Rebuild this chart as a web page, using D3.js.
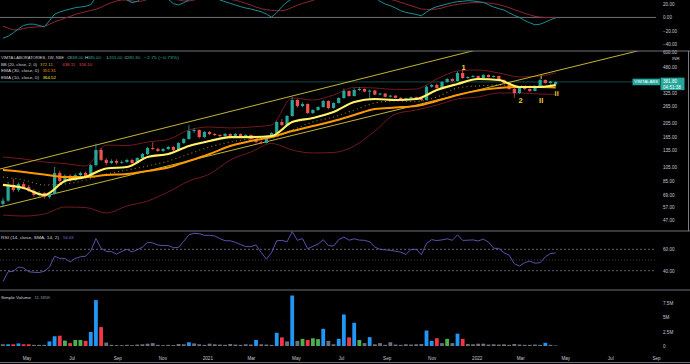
<!DOCTYPE html>
<html>
<head>
<meta charset="utf-8">
<script src="https://cdn.jsdelivr.net/npm/d3@7"></script>
<style>
  html, body { margin: 0; padding: 0; background: #000; }
  svg { display: block; font-family: "Liberation Sans", Arial, sans-serif; }
</style>
</head>
<body>
<div id="chart"></div>
<script>
// weekly candles, Mon 30 Mar 2020 .. Mon 18 Apr 2022
const weeks = d3.timeMonday.range(new Date(2020, 2, 30), new Date(2022, 3, 19));

const opens = [60,63,80,74,81,77.5,73,68.7,70.8,66.6,70,96,85,92,86,93,96,90,108,136,
  117,111.6,115,112,113.3,116.8,111.6,120.4,127.9,140.1,138,134,138,142.3,136,151.2,160.6,181.3,184.1,165.5,
  178.6,173.3,170.7,168.1,173.3,168.1,173.3,168.1,170.7,160.6,153.5,151.2,165.5,175.9,207.9,198.6,227.7,290.3,265,273.2,
  238.3,249.4,261,285.9,257.1,277.3,299.2,332.7,308.4,337.8,343,330,335,315,320,305,310,300,292,298,
  303,297,290,355,364.5,348.2,381.4,399.2,387.3,437.2,405.3,411.5,417.8,405.3,424.2,411.5,417.8,393.2,375.7,343,
  322.8,348.2,343,332.7,359,393.2,375.7,368];
const highs = [66,84,88,83,84,80,75,73,72,72,105,99,94,94,95,98,98,110,150,140,
  120,118,118,116,119,119,122,130,143,153,141,140,145,144,153,163,199,190,186,181,
  181,176,173,176,175,176,175,173,172,166,157,167,178,212,218,231,303,295,280,276,
  252,264,290,289,280,302,345,336,348,352,346,340,338,324,323,314,312,303,300,306,
  306,300,362,370,372,386,405,404,448,465,416,424,421,430,428,422,420,397,378,348,
  352,355,347,362,400,396,388,385];
const lows = [57,62,72,72,75,72,67,67,65,65,69,83,82,84,85,91,88,89,106,115,
  108,110,109,110,112,110,111,119,126,136,132,132,136,134,135,149,159,176,162,163,
  170,168,165,166,165,166,164,165,158,150,148,150,163,174,195,196,225,258,260,235,
  234,246,258,252,254,275,296,305,306,333,326,290,312,312,302,302,297,289,290,296,
  294,285,288,350,344,346,378,383,385,400,400,408,400,403,408,408,390,370,338,300,
  318,338,328,330,356,372,372,355];
const closes = [63,80,74,81,77.5,73,68.7,70.8,66.6,70,96,85,92,86,93,96,90,108,136,117,
  111.6,115,112,113.3,116.8,111.6,120.4,127.9,140.1,138,134,138,142.3,136,151.2,160.6,181.3,184.1,165.5,178.6,
  173.3,170.7,168.1,173.3,168.1,173.3,168.1,170.7,160.6,153.5,151.2,165.5,175.9,207.9,198.6,227.7,290.3,265,273.2,238.3,
  249.4,261,285.9,257.1,277.3,299.2,332.7,308.4,337.8,343,330,335,315,320,305,310,300,292,298,303,
  297,290,355,364.5,348.2,381.4,399.2,387.3,437.2,405.3,411.5,417.8,405.3,424.2,411.5,417.8,393.2,375.7,343,322.8,
  348.2,343,332.7,359,393.2,375.7,384.55,381.8];

// volume (millions) and bar kind: B blue, R red, G green, N neutral
const volumes = [0.3,0.3,0.3,0.45,0.3,0.3,0.2,0.2,0.2,0.8,1.7,1.8,0.95,0.5,1.05,1.05,0.9,2.45,8.0,3.3,
  0.6,0.2,0.15,0.15,0.2,0.15,0.25,0.3,0.4,0.5,0.2,0.15,0.2,0.15,0.35,0.3,0.65,0.45,0.3,0.2,
  0.4,0.3,0.25,0.2,0.35,0.25,0.2,0.3,0.25,1.05,0.3,0.25,0.2,2.3,1.5,0.8,8.8,0.9,1.25,1.05,
  1.35,1.2,3.0,0.9,0.3,1.25,5.5,1.5,4.05,1.05,0.5,1.55,0.3,0.5,0.2,0.65,0.25,0.2,0.3,0.25,
  0.3,0.35,2.7,0.9,1.35,0.5,1.25,0.5,2.15,1.25,0.35,0.3,0.4,0.4,0.25,0.3,0.25,0.3,0.2,0.35,
  0.25,0.2,0.2,0.25,0.2,0.55,0.2,0.1];
const volKinds = "NBRBRRNNNBBRGRGGRBBRNNNNNNNNNNNNNNNNBNNNNNNNNNNNNBNNNBRNBNGRGGBNNBBRBGNBNNNNNNNNNNBBRNGNBRNNNNNNNNNNNNNNNBNN".split("");

// RSI (14)
const rsi = [30,39,39.5,43.4,42.5,39,38.5,38.3,39.5,43.4,53.5,51.5,51.5,48.2,51.5,53,53.5,58.5,70,61,
  58,57.8,55.5,58,60,57.5,59.5,62,66.5,66,64,63.5,63.5,61.5,61.8,67.5,73.5,75,74.5,73.1,
  73.1,72.5,70,68,68,66.5,64.5,62.5,62.5,64,57,50.8,57,68,68.3,67,76.5,68.4,70,60.5,
  62.8,64.8,69,63.5,63,69,71.5,68.5,69.8,68.6,68.4,67,62,60,59.5,59,58.2,57.3,55.3,59.8,
  60,55,65.5,69,68.2,68.8,69.8,68.4,73.6,68.3,68.5,68.8,67.8,69.5,66.8,61,60.8,56.8,54.5,46.5,
  44.3,47.5,49,47,47.5,53,56.1,56.6];

// top oscillator pane: fast (teal) and signal (red)
const oscFast = [-31,-28,-23,-17,-12,-10,-10,-12,-14,-5,5,8,10.5,12.5,14.5,15.5,16.5,19,30,38,
  42,42,38,32,26,22,24,30,34,36,34,30,27,20.5,18.5,22,26,32,36,38,
  36,32,26,23.5,21,18.5,16,14,12.5,10.5,8.5,5,0.5,7,16,23,28,36,42,44,
  44,42,44,45,44,45,48,48,46,44,40,36,30,24,20,17.5,14,10,7.5,6,
  4.5,2.5,8,13,16,18,20,22,23.5,24,25,24.5,23.5,22.5,19,15.5,13,11,7,3,
  0,-4.5,-8,-11,-10,-7,-3.5,-0.5];
const oscSignal = [-13,-16,-18.5,-18.5,-16.5,-15,-14.5,-14,-13.5,-10,-6.5,-4,-1,1.5,4.5,6.5,8.5,10.5,12,15,
  19,22,24.5,26,26,24.5,23.5,24.5,27,29,30,30,29,27.5,26,24.5,24.5,26,28,30,
  31,31,30,28.5,27,25.5,23.5,21,18.5,15.5,13,11.5,10.5,10,10,11.5,15,18,21,23,
  25.5,28,30,32,34,35,36,37,38,38,37,35,33,31,29,27,25,22.5,20,17.5,
  15,12.5,12,12,12.5,14,16.5,18,19.5,20.5,21.5,22,22,22,21.5,20.5,19,17,14.5,11.5,
  9,6,4,1.5,0.5,0,0,0];

// overlay lines, read every 4th week
const lineIdx = [0,4,8,12,16,20,24,28,32,36,40,44,48,52,56,60,64,68,72,76,80,84,88,92,96,100,104,107];
const ema10 = [80.0,76.4,68.7,84.9,90.2,102.7,105.0,122.2,127.9,144.4,155.8,165.5,165.5,168.1,207.9,220.9,241.9,281.6,294.7,290.3,294.7,337.8,370.0,399.2,393.2,353.6,353.6,364.52];
const ema30 = [100.3,97.3,93.7,90.2,90.2,93.0,94.4,98.8,104.2,115.0,127.9,144.4,155.8,165.5,181.3,195.6,211.1,231.1,253.2,259.0,265.0,285.9,313.2,335.3,348.2,353.6,353.6,351.31];
const bbBasis = [90.2,86.2,80.0,81.1,86.2,94.4,100.3,106.6,115.0,127.9,142.3,153.5,160.6,163.1,184.1,207.9,224.3,249.4,277.3,285.9,283.7,303.8,348.2,359.0,364.5,359.0,359.0,372.11];
const bbUpper = [122.2,118.6,113.3,110.7,106.6,146.6,145.5,153.5,159.4,184.1,192.7,189.8,192.7,198.6,299.2,290.3,313.2,350.9,348.2,340.4,343.0,399.2,450.7,457.7,437.2,411.5,417.8,438.11];
const bbLower = [50.7,49.9,51.5,57.2,56.8,52.3,58.1,62.7,71.9,84.9,94.4,116.8,131.9,150.0,135.9,129.9,130.9,144.4,181.3,234.7,249.4,269.0,294.7,303.8,322.8,322.8,317.9,316.10];

// trend channel drawn between two anchors (week index, price)
const channelUpper = [[0, 103.0], [91, 612.3]];
const channelLower = [[0, 57.9], [107, 450.7]];

// wave labels: text, week index, price
const waveLabels = [["1", 89, 478], ["2", 100, 287], ["i", 104, 410], ["II", 104, 290], ["ii", 107, 322]];

const priceTicks = [600, 480, 325, 265, 205, 165, 135, 105, 85, 69, 57, 47];
const oscTicks = [20, 0, -20, -40];
const rsiTicks = [60, 40];
const volTicks = [7.5, 5, 2.5, 0];

const W = 690, H = 364, plotW = 656;
const UP = "#26a69a", DOWN = "#ef5350";
const axisColor = "#c5c7ce";

const x = d3.scaleTime().domain([new Date(2020, 2, 26), new Date(2022, 8, 1)]).range([0, plotW]);
const yOsc = d3.scaleLinear().domain([-40, 20]).range([44.3, 4]);
const yPrice = d3.scaleLog().domain([47, 265]).range([220, 106]);
const yRsi = d3.scaleLinear().domain([40, 60]).range([270.7, 249.3]);
const yVol = d3.scaleLinear().domain([0, 7.5]).range([346, 303]);
const volColor = d3.scaleOrdinal(["B", "R", "G", "N"], ["#2196f3", "#f23645", "#4caf50", "#6e717c"]);

const svg = d3.select("#chart").append("svg")
  .attr("width", W).attr("height", H)
  .style("background", "#000");

const defs = svg.append("defs");
const panes = { osc: [0, 51], main: [51, 231], rsi: [231, 290], vol: [290, 350] };
Object.entries(panes).forEach(([k, [a, b]]) => {
  defs.append("clipPath").attr("id", "clip-" + k)
    .append("rect").attr("x", 0).attr("y", a).attr("width", plotW).attr("height", b - a);
});

// ---------- top oscillator pane ----------
const gOsc = svg.append("g").attr("clip-path", "url(#clip-osc)");
gOsc.append("line").attr("x1", 0).attr("x2", plotW + 4)
  .attr("y1", yOsc(0)).attr("y2", yOsc(0)).attr("stroke", "#8a8d96").attr("stroke-width", 0.8);
const oscLine = arr => d3.line().x((d, i) => x(weeks[i])).y(d => yOsc(d))(arr);
gOsc.append("path").attr("d", oscLine(oscSignal)).attr("fill", "none")
  .attr("stroke", "#8e2633").attr("stroke-width", 1);
gOsc.append("path").attr("d", oscLine(oscFast)).attr("fill", "none")
  .attr("stroke", "#1a8f95").attr("stroke-width", 1);

// ---------- main price pane ----------
const gMain = svg.append("g").attr("clip-path", "url(#clip-main)");
const last = closes[closes.length - 1];

gMain.append("line").attr("x1", 0).attr("x2", plotW)
  .attr("y1", yPrice(last)).attr("y2", yPrice(last))
  .attr("stroke", "#1d6e64").attr("stroke-width", 0.7);

const sampled = arr => arr.map((v, k) => ({ date: weeks[lineIdx[k]], v }));
const overlay = d3.line().x(d => x(d.date)).y(d => yPrice(d.v)).curve(d3.curveMonotoneX);

gMain.append("path").attr("d", overlay(sampled(bbUpper))).attr("fill", "none")
  .attr("stroke", "#731822").attr("stroke-width", 1);
gMain.append("path").attr("d", overlay(sampled(bbLower))).attr("fill", "none")
  .attr("stroke", "#731822").attr("stroke-width", 1);
gMain.append("path").attr("d", overlay(sampled(bbBasis))).attr("fill", "none")
  .attr("stroke", "#9a8330").attr("stroke-width", 1.1).attr("stroke-dasharray", "1,3.2");

// channel lines, extended across the pane
function channel(anchors) {
  const [a, b] = anchors.map(([i, p]) => [x(weeks[i]), yPrice(p)]);
  const slope = (b[1] - a[1]) / (b[0] - a[0]);
  return [[0, a[1] - slope * a[0]], [plotW, a[1] + slope * (plotW - a[0])]];
}
[channelUpper, channelLower].forEach(c => {
  gMain.append("path").attr("d", d3.line()(channel(c))).attr("fill", "none")
    .attr("stroke", "#d9c83b").attr("stroke-width", 0.9);
});

const candles = weeks.map((d, i) => ({ date: d, o: opens[i], h: highs[i], l: lows[i], c: closes[i] }));
const gCandles = gMain.append("g");
gCandles.selectAll("line").data(candles).join("line")
  .attr("x1", d => x(d.date)).attr("x2", d => x(d.date))
  .attr("y1", d => yPrice(d.h)).attr("y2", d => yPrice(d.l))
  .attr("stroke", d => d.c >= d.o ? UP : DOWN).attr("stroke-width", 0.8);
gCandles.selectAll("rect").data(candles).join("rect")
  .attr("x", d => x(d.date) - 1.6).attr("width", 3.2)
  .attr("y", d => yPrice(Math.max(d.o, d.c)))
  .attr("height", d => Math.max(0.8, Math.abs(yPrice(d.o) - yPrice(d.c))))
  .attr("fill", d => d.c >= d.o ? UP : DOWN);

gMain.append("path").attr("d", overlay(sampled(ema30))).attr("fill", "none")
  .attr("stroke", "#ff9800").attr("stroke-width", 2);
gMain.append("path").attr("d", overlay(sampled(ema10))).attr("fill", "none")
  .attr("stroke", "#ffeb3b").attr("stroke-width", 2.2);
gMain.append("path").attr("d", overlay(sampled(ema10))).attr("fill", "none")
  .attr("stroke", "#fff8c0").attr("stroke-width", 0.7);

gMain.selectAll("text.wave").data(waveLabels).join("text")
  .attr("class", "wave")
  .attr("x", d => x(weeks[d[1]]) + 1).attr("y", d => yPrice(d[2]))
  .attr("dy", "0.35em").attr("text-anchor", "middle")
  .attr("fill", "#f2cf3a").attr("font-size", d => d[0] === "i" ? 6 : 7.5).attr("font-weight", "bold")
  .text(d => d[0]);

// ---------- RSI pane ----------
const gRsi = svg.append("g").attr("clip-path", "url(#clip-rsi)");
[[60, "2,2", "#8a8d96"], [50, "1,2", "#55585f"], [40, "2,2", "#8a8d96"]].forEach(([v, dash, col]) => {
  gRsi.append("line").attr("x1", 0).attr("x2", plotW)
    .attr("y1", yRsi(v)).attr("y2", yRsi(v))
    .attr("stroke", col).attr("stroke-width", 0.7).attr("stroke-dasharray", dash);
});
gRsi.append("path")
  .attr("d", d3.line().x((d, i) => x(weeks[i])).y(d => yRsi(d))(rsi))
  .attr("fill", "none").attr("stroke", "#6a56c0").attr("stroke-width", 0.9);

// ---------- volume pane ----------
const gVol = svg.append("g").attr("clip-path", "url(#clip-vol)");
gVol.selectAll("rect").data(volumes).join("rect")
  .attr("x", (d, i) => x(weeks[i]) - 1.9).attr("width", 3.8)
  .attr("y", d => yVol(d)).attr("height", d => yVol(0) - yVol(d))
  .attr("fill", (d, i) => volColor(volKinds[i]));

// ---------- axes ----------
function styleAxis(g) {
  g.select(".domain").remove();
  g.selectAll("text").attr("fill", axisColor).attr("font-size", 4.6)
    .attr("font-family", "Liberation Sans, Arial, sans-serif");
}
svg.append("g").attr("transform", `translate(${plotW},0)`)
  .call(d3.axisRight(yOsc).tickValues(oscTicks).tickSize(0).tickPadding(7).tickFormat(d3.format(".2f")))
  .call(styleAxis);
svg.append("g").attr("transform", `translate(${plotW},0)`)
  .call(d3.axisRight(yPrice).tickValues(priceTicks).tickSize(0).tickPadding(7).tickFormat(d3.format(".2f")))
  .call(styleAxis);
svg.append("g").attr("transform", `translate(${plotW},0)`)
  .call(d3.axisRight(yRsi).tickValues(rsiTicks).tickSize(0).tickPadding(7).tickFormat(d3.format(".2f")))
  .call(styleAxis);
svg.append("g").attr("transform", `translate(${plotW},0)`)
  .call(d3.axisRight(yVol).tickValues(volTicks).tickSize(0).tickPadding(7).tickFormat(d => d === 0 ? "0" : d + "M"))
  .call(styleAxis);

const timeFmt = d => d.getMonth() === 0 ? d3.timeFormat("%Y")(d) : d3.timeFormat("%b")(d);
svg.append("g").attr("transform", "translate(0,355)")
  .call(d3.axisBottom(x).ticks(d3.timeMonth.every(2)).tickSize(0).tickPadding(0).tickFormat(timeFmt))
  .call(styleAxis)
  .call(g => g.selectAll("text").attr("y", 3).attr("dy", "0.35em"));

svg.append("text").attr("x", 672).attr("y", 58).attr("dy", "0.35em")
  .attr("fill", axisColor).attr("font-size", 4.4).text("INR");

// ---------- pane separators ----------
[51, 231, 290, 362.5].forEach(y => {
  svg.append("line").attr("x1", 0).attr("x2", W).attr("y1", y).attr("y2", y)
    .attr("stroke", "#7a7d86").attr("stroke-width", 0.9);
});
svg.append("line").attr("x1", 688.5).attr("x2", 688.5).attr("y1", 51).attr("y2", 231)
  .attr("stroke", "#9a9ca3").attr("stroke-width", 0.8);

// ---------- last price tag ----------
const yl = yPrice(last);
svg.append("rect").attr("x", 632.5).attr("y", yl - 3.3).attr("width", 27.5).attr("height", 6.6).attr("fill", UP);
svg.append("text").attr("x", 646.2).attr("y", yl).attr("dy", "0.35em").attr("text-anchor", "middle")
  .attr("fill", "#fff").attr("font-size", 4.3).text("VIMTALABS");
svg.append("rect").attr("x", 660.5).attr("y", yl - 4.3).attr("width", 24).attr("height", 12.5).attr("fill", UP);
svg.append("text").attr("x", 663).attr("y", yl - 1).attr("dy", "0.35em")
  .attr("fill", "#fff").attr("font-size", 4.6).text(d3.format(".2f")(last));
svg.append("text").attr("x", 663).attr("y", yl + 5).attr("dy", "0.35em")
  .attr("fill", "#fff").attr("font-size", 4.6).text("04:51:38");

// ---------- legends ----------
function legendRow(y, parts) {
  const t = svg.append("g");
  parts.forEach(([px, txt, col, len]) => {
    const el = t.append("text").attr("x", px).attr("y", y).attr("dy", "0.35em")
      .attr("fill", col).attr("font-size", 4.3).text(txt);
    if (len) el.attr("textLength", len).attr("lengthAdjust", "spacingAndGlyphs");
  });
}
const txt = "#d1d4dc";
legendRow(57.5, [[1, "VIMTA LABORATORIES, 1W, NSE", txt, 63],
  [67.5, "O", txt], [70.3, "368.00", UP, 13], [85, "H", txt], [87.8, "385.00", UP, 13],
  [106.8, "L", txt], [109.3, "355.00", UP, 13], [124.6, "C", txt], [127.3, "381.80", UP, 13],
  [144, "\u22122.75 (\u22120.73%)", UP, 35]]);
legendRow(64.2, [[1, "BB (20, close, 2, 0)", txt, 36], [40, "372.11", "#d6a83a"],
  [62.3, "438.11", "#e0444e"], [79, "316.10", "#e0444e"]]);
legendRow(70.8, [[1, "EMA (30, close, 0)", txt, 38], [42.7, "351.31", "#ff9800"]]);
legendRow(77.4, [[1, "EMA (10, close, 0)", txt, 38], [42.7, "364.52", "#ffeb3b"]]);
legendRow(237.8, [[1, "RSI (14, close, SMA, 14, 2)", txt, 58], [63, "56.63", "#7e6bd6"]]);
legendRow(297.6, [[1, "Simple Volume", txt, 30], [34.5, "11.185K", "#9598a1"]]);
</script>
</body>
</html>
